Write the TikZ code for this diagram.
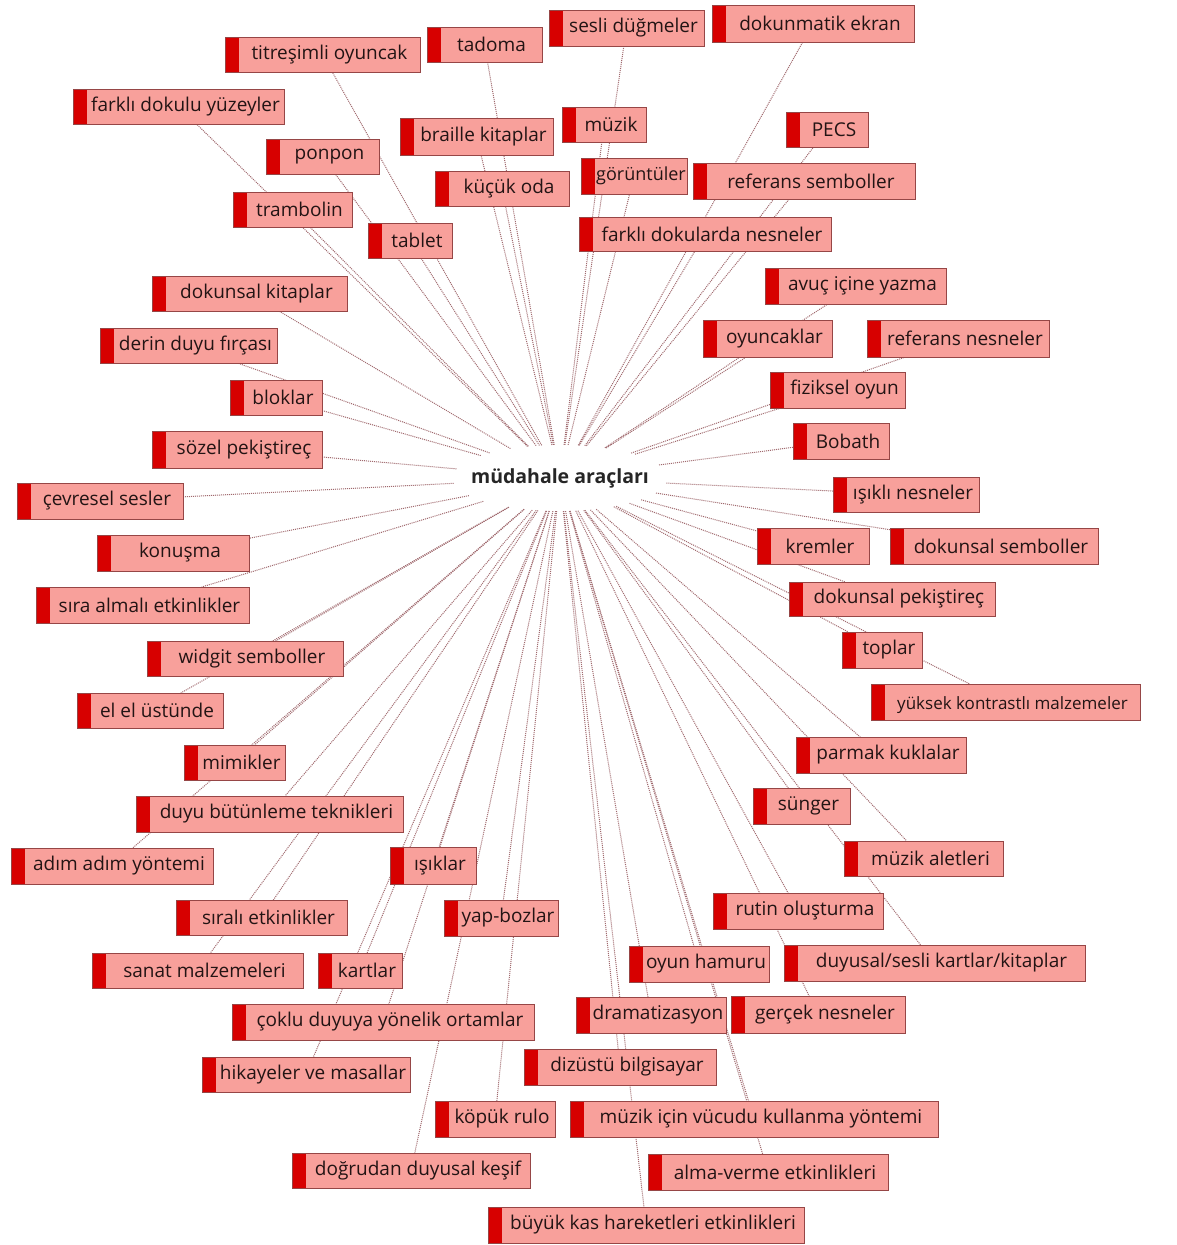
\documentclass[tikz,border=0pt]{standalone}
\usepackage{fontspec}
\setmainfont{Open Sans}
\usetikzlibrary{shapes.geometric,backgrounds}
\definecolor{boxfill}{RGB}{248,160,155}
\definecolor{boxline}{RGB}{150,70,70}
\definecolor{barred}{RGB}{215,0,0}
\definecolor{txtc}{RGB}{35,20,20}
\definecolor{connc}{RGB}{160,105,110}
\tikzset{
  box/.style={draw=boxline, line width=0.8pt, fill=boxfill, inner sep=0pt, outer sep=0pt,
    path picture={\fill[barred] (path picture bounding box.north west) rectangle ([xshift=14pt]path picture bounding box.south west);}},
  lbl/.style={font=\fontsize{19}{22}\selectfont, text=txtc, inner sep=0pt},
  conn/.style={draw=connc, densely dotted, line width=1pt},
  hubshape/.style={ellipse, minimum width=215pt, minimum height=66pt, inner sep=0pt},
  centertext/.style={font=\bfseries\fontsize{19.5}{22}\selectfont, text=black!85, inner sep=0pt}
}
\newcommand\bx[7][]{%
  \node[box, minimum width={(#5-#3)*1pt}, minimum height={(#6-#4)*1pt}] (#2) at ({(#3+#5)/2},{(#4+#6)/2}) {};
  \node[lbl,#1] (#2-t) at ({(#3+#5)/2+7},{(#4+#6)/2}) {#7};
}
\begin{document}
\begin{tikzpicture}[x=1pt,y=-1pt]
\useasboundingbox (0,0) rectangle (1177,1245);
\node[hubshape] (hub) at (560,478) {};
\node[centertext] (mud) at (560,478) {müdahale araçları};
\bx{n1}{225}{37}{420}{72}{titreşimli oyuncak}
\bx{n2}{427}{27}{542}{62}{tadoma}
\bx{n3}{549}{10}{704}{46}{sesli düğmeler}
\bx{n4}{712}{5}{914}{42}{dokunmatik ekran}
\bx{n5}{73}{89}{284}{124}{farklı dokulu yüzeyler}
\bx{n6}{400}{118}{553}{155}{braille kitaplar}
\bx{n7}{562}{107}{646}{142}{müzik}
\bx{n8}{786}{112}{868}{147}{PECS}
\bx{n9}{266}{139}{379}{174}{ponpon}
\bx[font=\fontsize{18}{21}\selectfont]{n10}{581}{158}{687}{194}{görüntüler}
\bx{n11}{693}{163}{915}{199}{referans semboller}
\bx{n12}{435}{171}{569}{206}{küçük oda}
\bx{n13}{233}{192}{352}{227}{trambolin}
\bx{n14}{368}{223}{452}{258}{tablet}
\bx{n15}{579}{217}{831}{251}{farklı dokularda nesneler}
\bx{n16}{152}{276}{347}{311}{dokunsal kitaplar}
\bx{n17}{765}{268}{946}{304}{avuç içine yazma}
\bx{n18}{703}{320}{832}{357}{oyuncaklar}
\bx{n19}{867}{320}{1049}{357}{referans nesneler}
\bx{n20}{100}{328}{277}{363}{derin duyu fırçası}
\bx{n21}{230}{380}{322}{415}{bloklar}
\bx{n22}{770}{372}{905}{408}{fiziksel oyun}
\bx{n23}{152}{431}{322}{468}{sözel pekiştireç}
\bx{n24}{793}{423}{889}{459}{Bobath}
\bx{n25}{17}{483}{183}{519}{çevresel sesler}
\bx{n26}{833}{477}{979}{512}{ışıklı nesneler}
\bx{n27}{97}{535}{249}{571}{konuşma}
\bx{n28}{757}{528}{869}{564}{kremler}
\bx{n29}{890}{528}{1098}{564}{dokunsal semboller}
\bx{n30}{36}{587}{249}{623}{sıra almalı etkinlikler}
\bx{n31}{789}{582}{995}{616}{dokunsal pekiştireç}
\bx{n32}{147}{641}{343}{676}{widgit semboller}
\bx{n33}{842}{632}{922}{668}{toplar}
\bx{n34}{77}{693}{223}{728}{el el üstünde}
\bx[font=\fontsize{17}{20}\selectfont, yshift=-3pt]{n35}{871}{684}{1140}{720}{yüksek kontrastlı malzemeler}
\bx{n36}{184}{745}{285}{780}{mimikler}
\bx{n37}{796}{737}{966}{773}{parmak kuklalar}
\bx{n38}{136}{796}{403}{832}{duyu bütünleme teknikleri}
\bx{n39}{753}{788}{850}{824}{sünger}
\bx{n40}{11}{848}{213}{884}{adım adım yöntemi}
\bx{n41}{390}{847}{476}{884}{ışıklar}
\bx{n42}{844}{841}{1003}{876}{müzik aletleri}
\bx{n43}{176}{900}{347}{935}{sıralı etkinlikler}
\bx{n44}{444}{900}{558}{936}{yap-bozlar}
\bx{n45}{713}{893}{883}{929}{rutin oluşturma}
\bx{n46}{92}{953}{303}{988}{sanat malzemeleri}
\bx{n47}{318}{953}{402}{988}{kartlar}
\bx{n48}{629}{946}{769}{982}{oyun hamuru}
\bx{n49}{784}{945}{1085}{981}{duyusal/sesli kartlar/kitaplar}
\bx{n50}{232}{1004}{534}{1040}{çoklu duyuya yönelik ortamlar}
\bx{n51}{576}{997}{726}{1033}{dramatizasyon}
\bx{n52}{731}{996}{905}{1033}{gerçek nesneler}
\bx{n53}{524}{1049}{716}{1085}{dizüstü bilgisayar}
\bx{n54}{202}{1057}{410}{1092}{hikayeler ve masallar}
\bx{n55}{435}{1101}{555}{1137}{köpük rulo}
\bx{n56}{570}{1101}{938}{1137}{müzik için vücudu kullanma yöntemi}
\bx{n57}{292}{1153}{530}{1188}{doğrudan duyusal keşif}
\bx{n58}{648}{1154}{888}{1190}{alma-verme etkinlikleri}
\bx{n59}{488}{1207}{804}{1243}{büyük kas hareketleri etkinlikleri}
\begin{pgfonlayer}{background}
\fill[white] (0,0) rectangle (1177,1245);
\foreach \i in {1,...,59} {\draw[conn] (hub) -- (n\i);}
\end{pgfonlayer}
\end{tikzpicture}
\end{document}
